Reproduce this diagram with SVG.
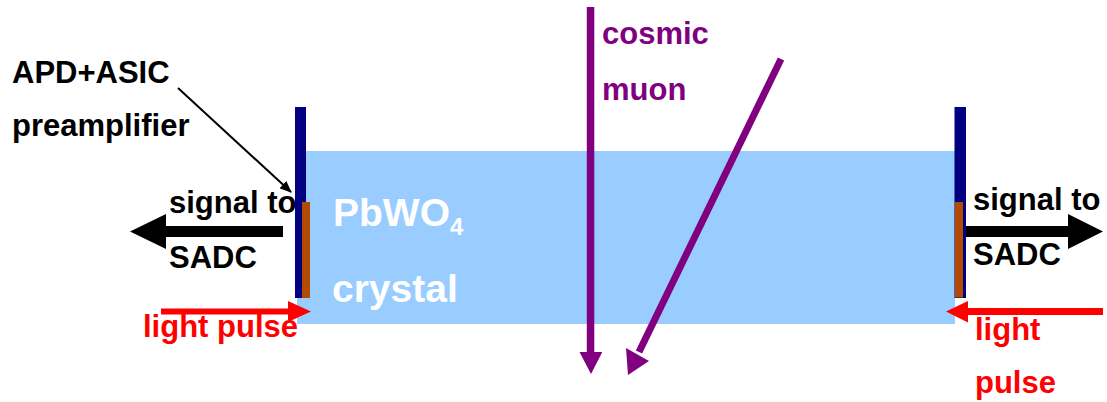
<svg xmlns="http://www.w3.org/2000/svg" width="1107" height="402" viewBox="0 0 1107 402">
<style>
text{font-family:"Liberation Sans",Arial,sans-serif;font-weight:bold;font-size:31px}
.blk{fill:#000}
.red{fill:#FF0000}
.pur{fill:#800080}
.wht{fill:#FFFFFF;font-size:39px}
</style>
<defs>
<marker id="thin" markerWidth="12" markerHeight="10" refX="11" refY="5" orient="auto" markerUnits="userSpaceOnUse"><path d="M0,0 L12,5 L0,10 Z" fill="#000"/></marker>
</defs>
<g id="crystal">
<rect x="297" y="151" width="658" height="173" fill="#99CCFF"/>
<text class="wht" x="333" y="226">PbWO<tspan font-size="24" dy="9">4</tspan></text>
<text class="wht" x="332" y="302">crystal</text>
</g>
<g id="left-detector">
<rect x="295" y="107" width="11" height="191" fill="#000080"/>
<rect x="302" y="202" width="8" height="96" fill="#B44A00"/>
</g>
<g id="right-detector">
<rect x="954.5" y="107" width="11.5" height="191" fill="#000080"/>
<rect x="955" y="202" width="8" height="95.5" fill="#B44A00"/>
</g>
<g id="labels">
<text class="blk" x="12" y="83">APD+ASIC</text>
<text class="blk" x="12" y="136">preamplifier</text>
<text class="blk" x="169" y="213">signal to</text>
<text class="blk" x="169" y="268">SADC</text>
<text class="blk" x="973" y="210">signal to</text>
<text class="blk" x="973" y="265">SADC</text>
<text class="red" x="143" y="337">light pulse</text>
<text class="red" x="975" y="340">light</text>
<text class="red" x="975" y="393">pulse</text>
<text class="pur" x="602" y="44">cosmic</text>
<text class="pur" x="602" y="100">muon</text>
</g>
<g id="connectors">
<line x1="178" y1="88" x2="291" y2="192" stroke="#000" stroke-width="2" marker-end="url(#thin)"/>
<path d="M283,226 L166,226 L166,214 L130,231.5 L166,249 L166,237 L283,237 Z" fill="#000"/>
<path d="M966,226 L1068,226 L1068,214 L1103,231.5 L1068,249 L1068,237 L966,237 Z" fill="#000"/>
<path d="M161,308.5 L288,308.5 L288,301 L311,311.5 L288,322 L288,314.5 L161,314.5 Z" fill="#FF0000"/>
<path d="M1103,308 L968,308 L968,301 L946,311.5 L968,322.5 L968,315 L1103,315 Z" fill="#FF0000"/>
<path d="M586.8,7 L594.3,7 L594.3,352 L602.3,352 L591,374 L579.5,352 L586.8,352 Z" fill="#800080"/>
<g fill="#800080">
<line x1="781" y1="59" x2="639" y2="352" stroke="#800080" stroke-width="7"/>
<path d="M628,375 L626,348 L649,361 Z"/>
</g>
</g>
</svg>
